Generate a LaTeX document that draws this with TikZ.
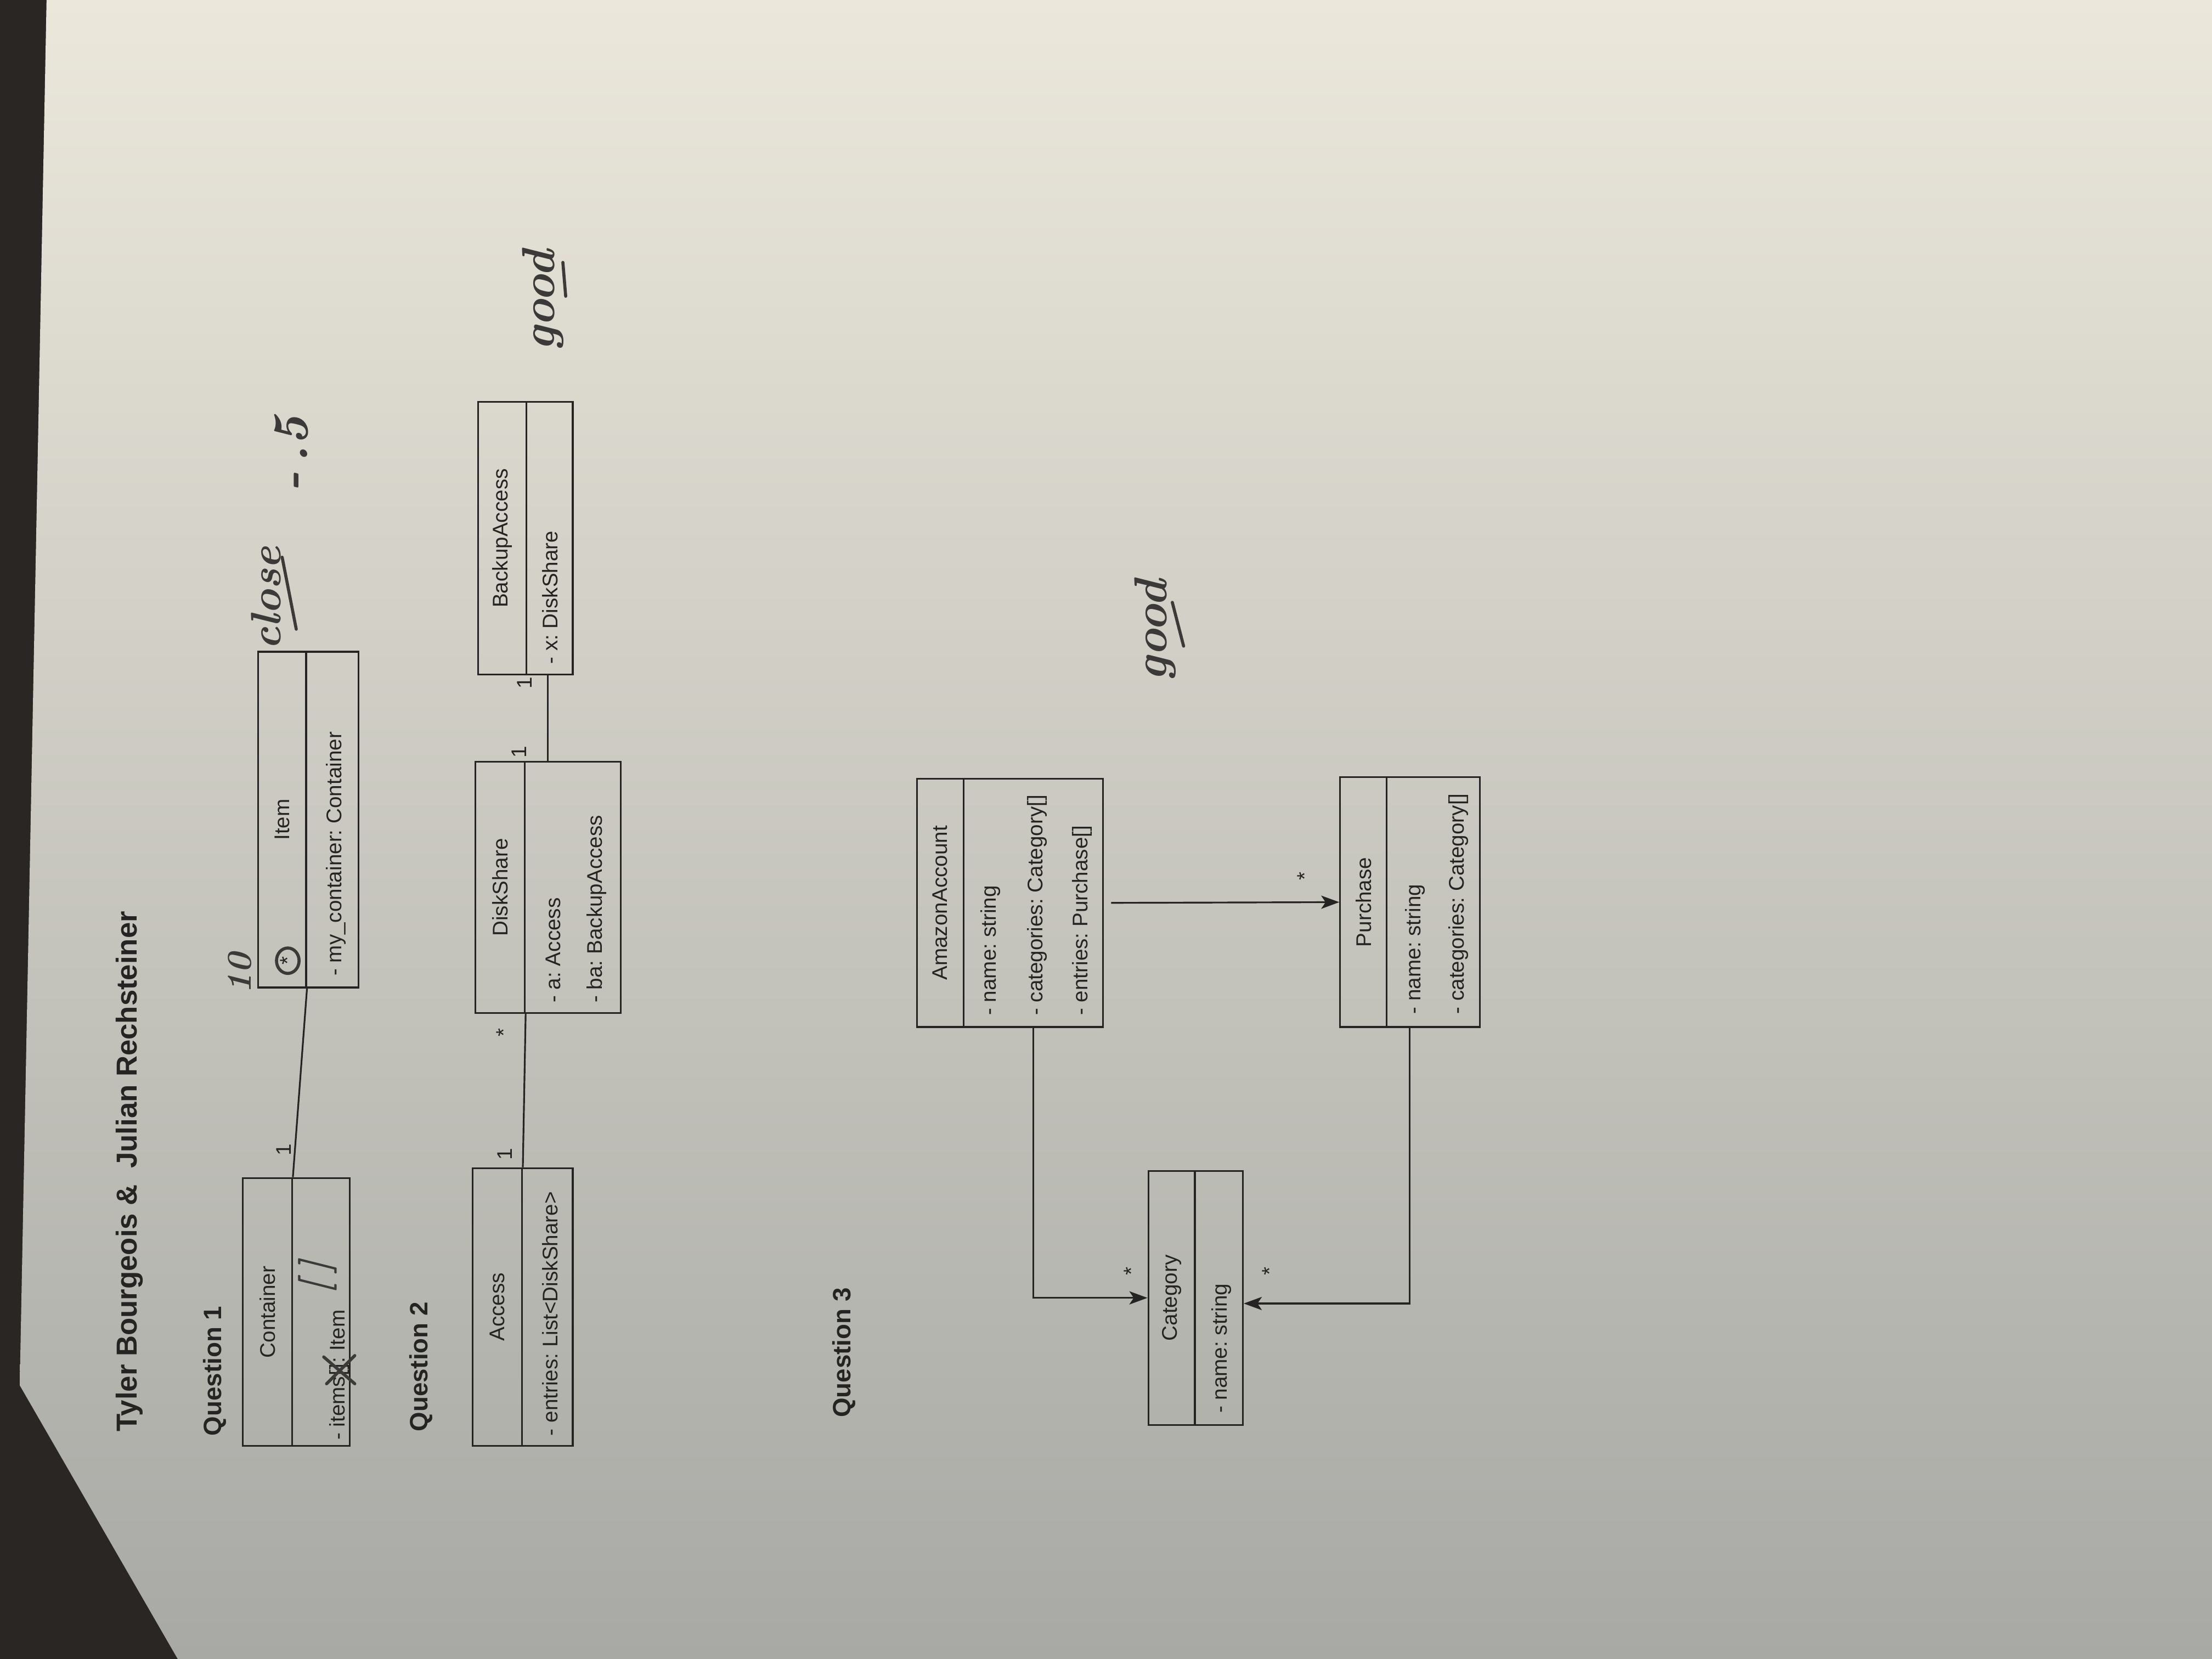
\documentclass[tikz,border=0pt]{standalone}
\usepackage{fontspec}
\setsansfont{Liberation Sans}
\usetikzlibrary{arrows.meta,fit}
\definecolor{desk}{HTML}{2A2623}
\definecolor{papertop}{HTML}{EBE7DB}
\definecolor{papermid}{HTML}{CFCCC3}
\definecolor{paperbot}{HTML}{A8A9A5}
\definecolor{ink}{HTML}{262422}
\frenchspacing
\begin{document}
\begin{tikzpicture}[x=0.2571mm, y=-0.2571mm,
  cls/.style={draw=ink, line width=0.9pt, inner sep=0pt},
  lbl/.style={rotate=90, inner sep=0pt, text=ink, font=\sffamily\fontsize{11}{13}\selectfont},
  attr/.style={lbl, anchor=west},
  head/.style={rotate=90, inner sep=0pt, anchor=base west, text=ink, font=\sffamily\bfseries\fontsize{13}{15}\selectfont},
  hand/.style={rotate=90, inner sep=0pt, anchor=base, text=ink!90, font=\rmfamily\bfseries\itshape\fontsize{24}{28}\selectfont},
  pen/.style={draw=ink!90, line width=1.6pt, line cap=round},
  assoc/.style={draw=ink, line width=0.9pt},
  arr/.style={assoc, -{Stealth[length=3.3mm, width=2.4mm, inset=0.8mm]}}]

  \useasboundingbox (0,0) rectangle (1568,1176);
  % photo background
  \fill[desk] (0,0) rectangle (1568,1176);
  \path[top color=papertop, middle color=papermid, bottom color=paperbot]
    (33,0) -- (1568,0) -- (1568,1176) -- (126,1176) -- (14,982) -- cycle;

  % header
  \node[head, font=\sffamily\bfseries\fontsize{15}{18}\selectfont] (title) at (97,1015) {Tyler Bourgeois \&\ \ Julian Rechsteiner};

  % Question 1
  \node[head] (q1) at (157,1018) {Question 1};
  \node[cls, fit={(172,835) (207,1025)}] (container) {};
  \node[cls, fit={(207,835) (248,1025)}] (containerA) {};
  \node[lbl] (containerT) at (container) {Container};
  \node[attr] (items1) at (239,1021) {- items};
  \node[attr, anchor=base west] (items2) at (items1.base east) {[]};
  \node[attr, anchor=base west] (items3) at (items2.base east) {: Item};

  \node[cls, fit={(183,462) (217,700)}] (item) {};
  \node[cls, fit={(217,462) (254,700)}] (itemA) {};
  \node[lbl] (itemT) at (item) {Item};
  \node[attr] (itemA1) at (238,692) {- my\_container: Container};

  \draw[assoc] (container.north east) -- (item.south east);
  \node[lbl] (m1) at (201,815) {1};
  \node[lbl] (m2) at (204,681) {*};

  % grading marks
  \draw[pen] (items2.center) ++(-11,-9) -- ++(22,19);
  \draw[pen] (items2.center) ++(-9,10) -- ++(20,-20);
  \node[hand, font=\rmfamily\bfseries\itshape\fontsize{20}{22}\selectfont] (br) at (232,905) {[\,]};
  \draw[pen] (m2) ellipse [x radius=8, y radius=9];
  \node[hand, font=\rmfamily\bfseries\itshape\fontsize{18}{20}\selectfont] (ten) at (178,690) {10};
  \node[hand, font=\rmfamily\bfseries\itshape\fontsize{22}{24}\selectfont] (close) at (199,424) {close};
  \draw[pen] ([shift={(1,-29)}]close.base) -- ([shift={(11,22)}]close.base);
  \node[hand, font=\rmfamily\bfseries\itshape\fontsize{26}{28}\selectfont] (minus) at (218,322) {-\,.5};

  % Question 2
  \node[head] (q2) at (303,1015) {Question 2};
  \node[cls, fit={(335,828) (370,1025)}] (access) {};
  \node[cls, fit={(370,828) (406,1025)}] (accessA) {};
  \node[lbl] (accessT) at (access) {Access};
  \node[attr] (accessA1) at (390,1018) {- entries: List<DiskShare>};

  \node[cls, fit={(337,540) (372,718)}] (disk) {};
  \node[cls, fit={(372,540) (440,718)}] (diskA) {};
  \node[lbl] (diskT) at (disk) {DiskShare};
  \node[attr] (diskA1) at (392,711) {- a: Access};
  \node[attr] (diskA2) at (423,711) {- ba: BackupAccess};

  \node[cls, fit={(339,285) (373,478)}] (backup) {};
  \node[cls, fit={(373,285) (406,478)}] (backupA) {};
  \node[lbl] (backupT) at (backup) {BackupAccess};
  \node[attr] (backupA1) at (390,471) {- x: DiskShare};

  \draw[assoc] (access.north east) -- (disk.south east);
  \draw[assoc] ([shift={(17,0)}]diskA.north west) -- ([shift={(16,0)}]backupA.south west);
  \node[lbl] (m3) at (358,818) {1};
  \node[lbl] (m4) at (357,732) {*};
  \node[lbl] (m5) at (368,533) {1};
  \node[lbl] (m6) at (372,484) {1};

  \node[hand] (good2) at (393,213) {good};
  \draw[pen] (399,186) -- (401,210);

  % Question 3
  \node[head] (q3) at (603,1005) {Question 3};
  \node[cls, fit={(650,552) (683,728)}] (amazon) {};
  \node[cls, fit={(683,552) (782,728)}] (amazonA) {};
  \node[lbl] (amazonT) at (amazon) {AmazonAccount};
  \node[attr] (amazonA1) at (702,720) {- name: string};
  \node[attr] (amazonA2) at (735,720) {- categories: Category[]};
  \node[attr] (amazonA3) at (767,720) {- entries: Purchase[]};

  \node[cls, fit={(950,551) (983,728)}] (purchase) {};
  \node[cls, fit={(983,551) (1049,728)}] (purchaseA) {};
  \node[lbl] (purchaseT) at (purchase) {Purchase};
  \node[attr] (purchaseA1) at (1003,719) {- name: string};
  \node[attr] (purchaseA2) at (1034,719) {- categories: Category[]};

  \node[cls, fit={(814,830) (847,1010)}] (category) {};
  \node[cls, fit={(847,830) (881,1010)}] (categoryA) {};
  \node[lbl] (categoryT) at (category) {Category};
  \node[attr] (categoryA1) at (866,1002) {- name: string};

  \draw[arr] (amazonA.south) |- (category.west);
  \draw[arr] ([shift={(5,0)}]amazonA.east) -- (purchase.west);
  \draw[arr] ([shift={(17,0)}]purchaseA.south west) |- ([shift={(0,4)}]categoryA.east);
  \node[lbl] (m7) at (925,621) {*};
  \node[lbl] (m8) at (802,901) {*};
  \node[lbl] (m9) at (900,901) {*};

  \node[hand] (good3) at (827,447) {good};
  \draw[pen] (831,427) -- (839,458);
\end{tikzpicture}
\end{document}
